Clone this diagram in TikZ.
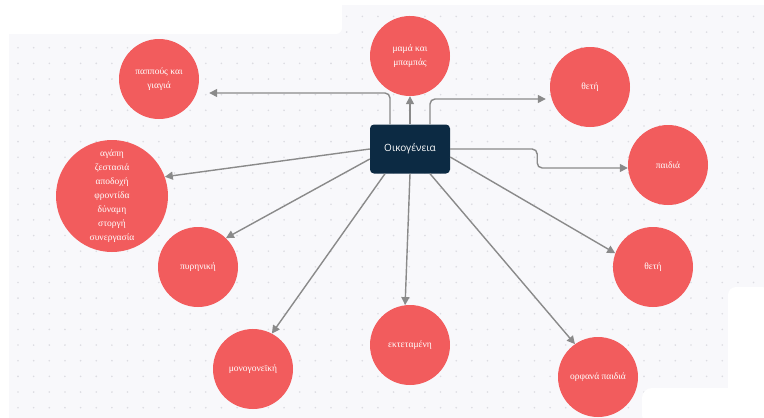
\documentclass[tikz,border=0pt]{standalone}
\usepackage{fontspec}
\setmainfont{Liberation Serif}
\newfontfamily\boxfont{Open Sans}
\usetikzlibrary{arrows.meta, positioning, calc}

\definecolor{bgpaper}{HTML}{F8F8FB}
\definecolor{bgdot}{HTML}{DCDCE2}
\definecolor{bubblered}{HTML}{F25C5D}
\definecolor{boxnavy}{HTML}{0C2A43}
\definecolor{linkgray}{HTML}{8A8A8A}

\tikzset{
	bubble/.style={circle, fill=bubblered, text=white, minimum size=80pt, inner sep=0pt,
		font=\fontsize{9.5}{14}\selectfont, align=center},
	famnode/.style={rectangle, rounded corners=4pt, fill=boxnavy, text=white,
		minimum width=80pt, minimum height=49pt, font=\boxfont\fontsize{10}{12}\selectfont},
	link/.style={draw=linkgray, line width=1.4pt, -{Triangle[length=8pt,width=8pt]}},
}

\begin{document}
\begin{tikzpicture}[x=1pt, y=-1pt]
		\useasboundingbox (0,0) rectangle (764,418);
		% paper and dot grid
		\fill[bgpaper] (9,5) rectangle (764,418);
		\foreach \y in {0,...,25}
			\foreach \x in {0,...,47}
			\fill[bgdot] (18+15.65*\x, 16.4+15.65*\y) circle (0.9pt);
		\fill[white, rounded corners=6pt] (-5,-5) rectangle (342,34);
		\fill[white, rounded corners=8pt] (728,287) rectangle (770,425);
		\fill[white, rounded corners=10pt] (642,388) rectangle (745,425);
		
		% nodes
		\node [famnode] (fam) at (410,149) {Οικογένεια};
		\node [bubble] (pappou) at (159,79) {παππούς και\\γιαγιά};
		\node [bubble] (mama) at (410,56) {μαμά και\\μπαμπάς};
		\node [bubble] (thetiA) at (590,87) {θετή};
		\node [bubble] (paidia) at (668,165) {παιδιά};
		\node [bubble, minimum size=112pt] (agapi) at (112,196) {αγάπη\\ζεστασιά\\αποδοχή\\φροντίδα\\δύναμη\\στοργή\\συνεργασία};
		\node [bubble] (pyr) at (198,267) {πυρηνική};
		\node [bubble] (mono) at (253,369) {μονογονεϊκή};
		\node [bubble] (ekt) at (410,345) {εκτεταμένη};
		\node [bubble] (thetiB) at (653,267) {θετή};
		\node [bubble] (orf) at (598,377) {ορφανά παιδιά};
		
		% connectors
		\draw [link, rounded corners=5pt] ([xshift=-20pt]fam.north) |- ([xshift=10pt,yshift=-14pt]pappou.east);
		\draw [link] (fam.north) -- (mama.south);
		\draw [link, rounded corners=5pt] ([xshift=20pt]fam.north) |- ([xshift=-4pt,yshift=-12pt]thetiA.west);
		\draw [link, rounded corners=5pt] (fam.east) -- ++(87,0) |- ([yshift=-3pt]paidia.west);
		\draw [link] (fam.west) -- (agapi.20);
		\draw [link] ([yshift=-10pt]fam.west) -- (pyr.46);
		\draw [link] ([xshift=-25pt]fam.south) -- (mono.62);
		\draw [link] (fam.south) -- (ekt.97);
		\draw [link] ([yshift=-8pt]fam.east) -- (thetiB.160);
		\draw [link] ([xshift=20pt]fam.south) -- (orf.125);
\end{tikzpicture}
\end{document}
